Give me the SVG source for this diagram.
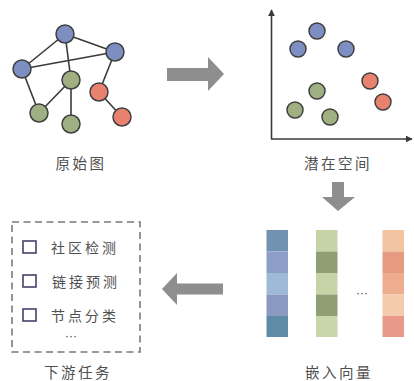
<svg xmlns="http://www.w3.org/2000/svg" width="414" height="381" viewBox="0 0 414 381">
<defs>
<style>
.lbl{font-family:"Noto Sans CJK SC","Liberation Sans",sans-serif;font-size:14.5px;fill:#505050;letter-spacing:2.5px;text-anchor:middle;dominant-baseline:central}
.item{font-family:"Noto Sans CJK SC","Liberation Sans",sans-serif;font-size:14px;fill:#505050;letter-spacing:3px;dominant-baseline:central}
.edge{stroke:#3a3a3a;stroke-width:1.6;fill:none}
.b{fill:#7d8fc2;stroke:#3f3f3f;stroke-width:1.5}
.g{fill:#9fb083;stroke:#3f3f3f;stroke-width:1.5}
.r{fill:#e8826f;stroke:#3f3f3f;stroke-width:1.5}
.arrow{fill:#8e8e8e}
.cb{fill:none;stroke:#4b3f68;stroke-width:1.6}
.dots{font-family:"Liberation Sans",sans-serif;font-size:12px;fill:#444;text-anchor:middle}
</style>
<marker id="ah" viewBox="0 0 10 10" refX="9" refY="5" markerWidth="7" markerHeight="7" orient="auto" markerUnits="userSpaceOnUse">
<path d="M0,0 L10,5 L0,10 z" fill="#3a3a3a"/>
</marker>
</defs>

<g id="connectors">
<line class="edge" x1="65" y1="34" x2="115" y2="52"/>
<line class="edge" x1="65" y1="34" x2="22" y2="69"/>
<line class="edge" x1="65" y1="34" x2="71" y2="80"/>
<line class="edge" x1="22" y1="69" x2="115" y2="52"/>
<line class="edge" x1="22" y1="69" x2="39" y2="113"/>
<line class="edge" x1="71" y1="80" x2="39" y2="113"/>
<line class="edge" x1="71" y1="80" x2="71" y2="124"/>
<line class="edge" x1="115" y1="52" x2="99" y2="92"/>
<line class="edge" x1="99" y1="92" x2="122" y2="117"/>
</g>

<g id="original-graph">
<circle class="b" cx="65" cy="34" r="9"/>
<circle class="b" cx="115" cy="52" r="9"/>
<circle class="b" cx="22" cy="69" r="9"/>
<circle class="g" cx="71" cy="80" r="9"/>
<circle class="g" cx="39" cy="113" r="9"/>
<circle class="g" cx="71" cy="124" r="9"/>
<circle class="r" cx="99" cy="92" r="9"/>
<circle class="r" cx="122" cy="117" r="9"/>
<text class="lbl" x="81" y="162">原始图</text>
</g>

<g id="arrow-right">
<path class="arrow" d="M167,68 H208 V57 L224,74 L208,91 V81 H167 Z"/>
</g>

<g id="latent-space">
<line x1="271.5" y1="139" x2="271.5" y2="10" stroke="#3a3a3a" stroke-width="1.6" marker-end="url(#ah)"/>
<line x1="271" y1="139" x2="412" y2="139" stroke="#3a3a3a" stroke-width="1.6" marker-end="url(#ah)"/>
<circle class="b" cx="317" cy="31" r="8"/>
<circle class="b" cx="298" cy="49" r="8"/>
<circle class="b" cx="346" cy="49" r="8"/>
<circle class="r" cx="370" cy="81" r="8"/>
<circle class="r" cx="383" cy="102" r="8"/>
<circle class="g" cx="317" cy="91" r="8"/>
<circle class="g" cx="295" cy="110" r="8"/>
<circle class="g" cx="330" cy="117" r="8"/>
<text class="lbl" x="338" y="162">潜在空间</text>
</g>

<g id="arrow-down">
<path class="arrow" d="M332,182 H344 V197 H355 L338,211 L322,197 H332 Z"/>
</g>

<g id="embedding-vectors">
<rect x="266.5" y="230" width="21.5" height="21.5" fill="#7292b1"/>
<rect x="266.5" y="251.5" width="21.5" height="21.5" fill="#8d9fc8"/>
<rect x="266.5" y="273" width="21.5" height="21.5" fill="#9dbad7"/>
<rect x="266.5" y="294.5" width="21.5" height="21.5" fill="#8a99c0"/>
<rect x="266.5" y="316" width="21.5" height="21" fill="#5e8ba6"/>

<rect x="316" y="230" width="21.5" height="21.5" fill="#c5d3a6"/>
<rect x="316" y="251.5" width="21.5" height="21.5" fill="#8f9f73"/>
<rect x="316" y="273" width="21.5" height="21.5" fill="#c6d4a7"/>
<rect x="316" y="294.5" width="21.5" height="21.5" fill="#8f9f73"/>
<rect x="316" y="316" width="21.5" height="21" fill="#c8d6aa"/>

<rect x="382.5" y="230" width="21.5" height="21.5" fill="#f3c4a2"/>
<rect x="382.5" y="251.5" width="21.5" height="21.5" fill="#e69a80"/>
<rect x="382.5" y="273" width="21.5" height="21.5" fill="#efad90"/>
<rect x="382.5" y="294.5" width="21.5" height="21.5" fill="#f5cbad"/>
<rect x="382.5" y="316" width="21.5" height="21" fill="#e8998a"/>

<text class="dots" x="362" y="297">···</text>
<text class="lbl" x="339" y="371">嵌入向量</text>
</g>

<g id="arrow-left">
<path class="arrow" d="M223,283.5 H177 V273 L162,289 L177,305 V294.5 H223 Z"/>
</g>

<g id="downstream-tasks">
<rect x="12" y="222" width="128" height="130" fill="none" stroke="#7a7a7a" stroke-width="1.6" stroke-dasharray="7,4.5"/>
<rect class="cb" x="23" y="241" width="13" height="12"/>
<rect class="cb" x="23" y="275" width="13" height="12"/>
<rect class="cb" x="23" y="309" width="13" height="12"/>
<text class="item" x="51" y="247">社区检测</text>
<text class="item" x="52" y="281">链接预测</text>
<text class="item" x="51" y="315">节点分类</text>
<text class="dots" x="71" y="340">···</text>
<text class="lbl" x="78" y="371">下游任务</text>
</g>
</svg>
